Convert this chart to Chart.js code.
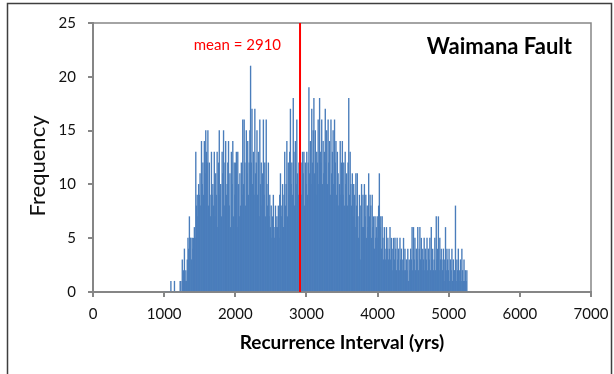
<!DOCTYPE html>
<html>
<head>
<meta charset="utf-8">
<script src="https://cdn.jsdelivr.net/npm/chart.js@4.4.1/dist/chart.umd.min.js"></script>
<style>
  html, body { margin: 0; padding: 0; background: #fff; }
</style>
</head>
<body>
<canvas id="hist" width="614" height="374"></canvas>
<script>
// Recurrence interval histogram, 10-year bins starting at 1000 yrs
const binStart = 1000;
const binWidth = 10;

// one row per century (1000s, 1100s, ...)
const freq = [
  0, 0, 0, 0, 0, 0, 0, 0, 0, 1,
  0, 0, 0, 0, 1, 0, 0, 0, 0, 0,
  0, 0, 1, 1, 0, 3, 1, 2, 4, 1,
  2, 1, 3, 5, 4, 7, 5, 5, 3, 5,
  4, 5, 6, 5, 13, 8, 9, 7, 10, 9,
  11, 8, 14, 10, 12, 9, 14, 11, 15, 13,
  12, 15, 8, 12, 9, 7, 13, 9, 10, 8,
  13, 7, 11, 9, 13, 6, 12, 15, 9, 10,
  7, 13, 11, 15, 8, 12, 14, 9, 10, 12,
  14, 8, 11, 6, 13, 10, 14, 7, 12, 9,
  12, 13, 6, 13, 10, 7, 11, 8, 12, 9,
  16, 10, 16, 12, 8, 15, 11, 14, 9, 12,
  15, 21, 12, 17, 10, 13, 9, 17, 11, 12,
  15, 9, 13, 7, 16, 10, 12, 8, 11, 16,
  9, 12, 7, 16, 10, 8, 12, 7, 9, 6,
  8, 5, 7, 9, 6, 5, 8, 6, 7, 6,
  8, 5, 9, 11, 7, 8, 10, 6, 9, 13,
  8, 10, 14, 7, 12, 9, 13, 17, 10, 12,
  9, 18, 13, 8, 14, 10, 16, 11, 9, 12,
  8, 10, 12, 9, 13, 11, 13, 8, 12, 10,
  13, 9, 12, 19, 11, 14, 10, 17, 12, 15,
  18, 11, 15, 9, 13, 12, 16, 10, 18, 13,
  12, 16, 10, 14, 11, 13, 17, 12, 15, 10,
  16, 12, 14, 9, 16, 11, 13, 15, 10, 16,
  12, 14, 9, 13, 11, 8, 10, 14, 9, 12,
  14, 9, 12, 8, 13, 10, 11, 8, 12, 18,
  9, 13, 10, 8, 11, 7, 10, 9, 6, 11,
  8, 11, 7, 5, 9, 3, 8, 10, 6, 9,
  6, 10, 7, 9, 5, 8, 6, 11, 7, 9,
  8, 5, 9, 6, 7, 4, 7, 5, 6, 7,
  5, 8, 11, 6, 7, 4, 7, 5, 3, 6,
  4, 3, 6, 4, 5, 3, 4, 6, 3, 5,
  4, 2, 5, 3, 5, 4, 2, 5, 3, 4,
  2, 5, 3, 4, 2, 3, 5, 2, 4, 2,
  3, 2, 4, 1, 3, 2, 4, 3, 6, 2,
  6, 3, 5, 2, 4, 3, 6, 2, 4, 6,
  3, 5, 2, 4, 3, 5, 2, 4, 3, 5,
  2, 4, 3, 5, 2, 6, 3, 4, 2, 3,
  5, 2, 7, 3, 4, 7, 2, 5, 3, 4,
  3, 2, 4, 1, 3, 6, 2, 4, 3, 2,
  4, 1, 3, 2, 4, 1, 3, 2, 2, 8,
  1, 3, 2, 4, 1, 2, 3, 1, 4, 2,
  1, 3, 1, 2, 1, 2, 0, 0, 0, 0
];

const meanInterval = 2910;
const xTicks = [0, 1000, 2000, 3000, 4000, 5000, 6000, 7000];
const yTicks = [0, 5, 10, 15, 20, 25];

const axisGrey = '#868686';
const barBlue = '#4a7dbb';

const points = freq.map((f, i) => ({ x: binStart + binWidth * (i + 0.5), y: f }));

const decorations = {
  id: 'decorations',
  beforeDraw(chart) {
    const { ctx } = chart;
    ctx.save();
    ctx.fillStyle = '#fff';
    ctx.fillRect(0, 0, chart.width, chart.height);
    ctx.strokeStyle = '#3f3f3f';
    ctx.lineWidth = 1.5;
    ctx.strokeRect(7.5, 3.5, 604, 400);
    ctx.restore();
  },
  afterDatasetsDraw(chart) {
    const { ctx, chartArea: a, scales } = chart;
    ctx.save();
    ctx.strokeStyle = axisGrey;
    ctx.lineWidth = 1.5;
    ctx.strokeRect(a.left, a.top, a.right - a.left, a.bottom - a.top);

    // mean marker
    const mx = scales.x.getPixelForValue(meanInterval);
    ctx.strokeStyle = '#ff0000';
    ctx.lineWidth = 2;
    ctx.beginPath();
    ctx.moveTo(mx, a.top);
    ctx.lineTo(mx, a.bottom);
    ctx.stroke();

    ctx.textBaseline = 'middle';
    ctx.textAlign = 'right';
    ctx.fillStyle = '#ff0000';
    ctx.font = '15px Lato';
    ctx.fillText('mean = ' + meanInterval, mx - 19, 45);

    ctx.fillStyle = '#000';
    ctx.font = 'bold 22px Lato';
    ctx.fillText('Waimana Fault', a.right - 19, 47);

    // y axis title
    ctx.translate(38, 166);
    ctx.rotate(-Math.PI / 2);
    ctx.textAlign = 'center';
    ctx.font = '22px Lato';
    ctx.fillStyle = '#111';
    ctx.fillText('Frequency', 0, 0);
    ctx.restore();
  }
};

new Chart(document.getElementById('hist'), {
  type: 'bar',
  data: {
    datasets: [{
      data: points,
      backgroundColor: barBlue,
      borderWidth: 0,
      barPercentage: 1,
      categoryPercentage: 1
    }]
  },
  options: {
    responsive: false,
    animation: false,
    layout: { padding: { top: 23, right: 23, bottom: 0, left: 0 } },
    plugins: { legend: { display: false }, tooltip: { enabled: false } },
    scales: {
      x: {
        type: 'linear',
        min: 0,
        max: 7000,
        offset: false,
        afterBuildTicks: s => { s.ticks = xTicks.map(v => ({ value: v })); },
        afterFit: s => { s.height = 82; s.paddingLeft = 0; s.paddingRight = 0; },
        grid: { offset: false, drawOnChartArea: false, tickLength: 5, color: axisGrey, lineWidth: 2 },
        border: { color: axisGrey, width: 2 },
        ticks: {
          padding: 8,
          maxRotation: 0,
          color: '#111',
          font: { family: 'Lato', size: 15 },
          callback: v => String(v)
        },
        title: {
          display: true,
          text: 'Recurrence Interval (yrs)',
          color: '#000',
          font: { family: 'Lato', size: 19, weight: 'bold' },
          padding: { top: 0, bottom: 20 }
        }
      },
      y: {
        min: 0,
        max: 25,
        afterBuildTicks: s => { s.ticks = yTicks.map(v => ({ value: v })); },
        afterFit: s => { s.width = 93; },
        grid: { drawOnChartArea: false, tickLength: 5, color: axisGrey, lineWidth: 2 },
        border: { color: axisGrey, width: 2 },
        ticks: { padding: 12, color: '#111', font: { family: 'Lato', size: 15 }, callback: v => String(v) }
      }
    }
  },
  plugins: [decorations]
});
</script>
</body>
</html>
